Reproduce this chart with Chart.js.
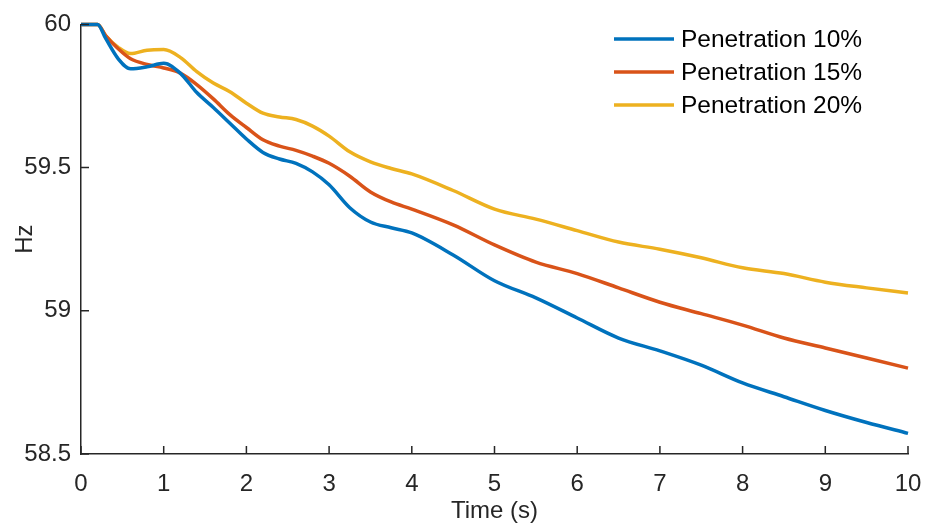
<!DOCTYPE html>
<html>
<head>
<meta charset="utf-8">
<script src="https://cdn.jsdelivr.net/npm/chart.js@4/dist/chart.umd.min.js"></script>
<style>
  html, body { margin: 0; padding: 0; background: #fff; }
  #wrap { width: 929px; height: 523px; position: relative; }
</style>
</head>
<body>
<div id="wrap"><canvas id="c" width="929" height="523"></canvas></div>
<script>
// ---- data ----
const time = [0, 0.2, 0.3, 0.45, 0.6, 0.8, 1.0, 1.2, 1.4, 1.6, 1.8, 2.0, 2.2, 2.4, 2.6, 2.8, 3.0, 3.25, 3.5, 3.75, 4.0, 4.5, 5.0, 5.5, 6.0, 6.5, 7.0, 7.5, 8.0, 8.5, 9.0, 9.5, 10];
const pen10 = [60, 60, 59.95, 59.88, 59.845, 59.852, 59.864, 59.83, 59.762, 59.71, 59.655, 59.60, 59.553, 59.53, 59.515, 59.485, 59.44, 59.36, 59.31, 59.29, 59.272, 59.195, 59.105, 59.045, 58.975, 58.905, 58.86, 58.81, 58.748, 58.70, 58.652, 58.61, 58.572];
const pen15 = [60, 60, 59.96, 59.915, 59.88, 59.86, 59.848, 59.83, 59.79, 59.74, 59.685, 59.64, 59.597, 59.575, 59.56, 59.54, 59.515, 59.47, 59.415, 59.38, 59.355, 59.30, 59.23, 59.17, 59.13, 59.08, 59.03, 58.99, 58.95, 58.905, 58.87, 58.835, 58.80];
const pen20 = [60, 60, 59.96, 59.92, 59.898, 59.91, 59.912, 59.885, 59.835, 59.795, 59.765, 59.725, 59.69, 59.677, 59.668, 59.645, 59.61, 59.555, 59.52, 59.497, 59.478, 59.42, 59.355, 59.32, 59.28, 59.24, 59.215, 59.185, 59.15, 59.13, 59.10, 59.08, 59.062];
const seriesLabels = ['Penetration 10%', 'Penetration 15%', 'Penetration 20%'];
const seriesColors = ['#0072BD', '#D95319', '#EDB120'];
const xTickValues = [0, 1, 2, 3, 4, 5, 6, 7, 8, 9, 10];
const yTickValues = [58.5, 59, 59.5, 60];
const yTickLabels = ['58.5', '59', '59.5', '60'];
const xTitle = 'Time (s)';
const yTitle = 'Hz';

const FONT = "'Liberation Sans', Arial, Helvetica, sans-serif";
const AXIS_COLOR = '#262626';
const FSIZE = 24;

function pts(ys) { return time.map((t, i) => ({ x: t, y: ys[i] })); }
const allSeries = [pen10, pen15, pen20];

const datasets = allSeries.map((s, i) => ({
  label: seriesLabels[i],
  data: pts(s),
  borderColor: seriesColors[i],
  backgroundColor: seriesColors[i],
  borderWidth: 3.5,
  pointRadius: 0,
  fill: false,
  cubicInterpolationMode: 'monotone',
  clip: false
}));

const inwardTicks = {
  id: 'inwardTicks',
  afterDraw(chart) {
    const ctx = chart.ctx;
    const xs = chart.scales.x, ys = chart.scales.y;
    const a = chart.chartArea;
    ctx.save();
    ctx.strokeStyle = AXIS_COLOR;
    ctx.lineWidth = 1.5;
    ctx.beginPath();
    xTickValues.forEach(v => {
      const px = xs.getPixelForValue(v);
      ctx.moveTo(px, a.bottom);
      ctx.lineTo(px, a.bottom - 8);
    });
    yTickValues.forEach(v => {
      const py = ys.getPixelForValue(v);
      ctx.moveTo(a.left, py);
      ctx.lineTo(a.left + 8, py);
    });
    ctx.stroke();
    ctx.restore();
  }
};

const customLegend = {
  id: 'customLegend',
  afterDraw(chart) {
    const ctx = chart.ctx;
    ctx.save();
    ctx.font = '24.5px ' + FONT;
    ctx.textBaseline = 'middle';
    ctx.textAlign = 'left';
    chart.data.datasets.forEach((ds, i) => {
      const y = 39 + i * 33;
      ctx.strokeStyle = ds.borderColor;
      ctx.lineWidth = 3.5;
      ctx.beginPath();
      ctx.moveTo(614, y);
      ctx.lineTo(674, y);
      ctx.stroke();
      ctx.fillStyle = '#000';
      ctx.fillText(ds.label, 681, y + 1);
    });
    ctx.restore();
  }
};

new Chart(document.getElementById('c'), {
  type: 'line',
  data: { datasets },
  plugins: [inwardTicks, customLegend],
  options: {
    responsive: false,
    animation: false,
    devicePixelRatio: 1,
    layout: { padding: { left: 0, right: 21, top: 22, bottom: 0 } },
    plugins: { legend: { display: false }, tooltip: { enabled: false } },
    scales: {
      x: {
        type: 'linear',
        min: 0, max: 10,
        afterFit(s) { s.height = 69; s.paddingRight = 0; s.paddingLeft = 0; },
        afterBuildTicks(s) { s.ticks = xTickValues.map(v => ({ value: v })); },
        grid: { display: false, drawTicks: false },
        border: { display: true, color: AXIS_COLOR, width: 1.5 },
        ticks: {
          padding: 16,
          color: AXIS_COLOR,
          font: { family: FONT, size: FSIZE },
          maxRotation: 0,
          callback: v => String(v)
        },
        title: {
          display: true, text: xTitle, color: AXIS_COLOR,
          font: { family: FONT, size: FSIZE },
          padding: { top: 0, bottom: -3 }
        }
      },
      y: {
        type: 'linear',
        min: 58.5, max: 60,
        afterFit(s) { s.width = 81; },
        afterBuildTicks(s) { s.ticks = yTickValues.map(v => ({ value: v })); },
        grid: { display: false, drawTicks: false },
        border: { display: true, color: AXIS_COLOR, width: 1.5 },
        ticks: {
          padding: 10,
          color: AXIS_COLOR,
          font: { family: FONT, size: FSIZE },
          callback: v => { const k = yTickValues.indexOf(v); return k >= 0 ? yTickLabels[k] : ''; }
        },
        title: {
          display: true, text: yTitle, color: AXIS_COLOR,
          font: { family: FONT, size: FSIZE },
          padding: { top: 11, bottom: 0 }
        }
      }
    }
  }
});
</script>
</body>
</html>
